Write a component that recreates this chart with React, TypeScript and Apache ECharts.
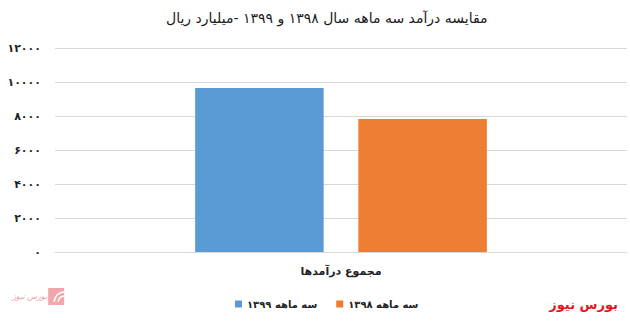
import React, { useEffect, useRef } from "react";
import * as echarts from "echarts";

const categories = ["مجموع درآمدها"];
const seriesNames = ["سه ماهه ۱۳۹۹", "سه ماهه ۱۳۹۸"];
const values1399 = [9650];
const values1398 = [7830];
const colors = ["#5B9BD5", "#ED7D31"];
const titleText = "مقایسه درآمد سه ماهه سال ۱۳۹۸ و ۱۳۹۹ -میلیارد ریال";
const sourceText = "بورس نیوز";

const FONT = "'DejaVu Sans', sans-serif";
const toFa = (n: number | string) =>
  String(n).replace(/[0-9]/g, (d) => "۰۱۲۳۴۵۶۷۸۹"[Number(d)]);

export default function App() {
  const ref = useRef<HTMLDivElement>(null);
  useEffect(() => {
    if (!ref.current) return;
    document.body.style.margin = "0";
    const chart = echarts.init(ref.current, null, { renderer: "svg" });
    chart.setOption({
      animation: false,
      backgroundColor: "#ffffff",
      textStyle: { fontFamily: FONT },
      title: {
        text: titleText,
        left: 161,
        top: 6,
        textStyle: { fontFamily: FONT, fontSize: 14, fontWeight: "normal", color: "#1a1a1a" },
      },
      legend: {
        data: seriesNames,
        top: 299,
        left: 235,
        padding: 0,
        itemWidth: 7,
        itemHeight: 7,
        itemGap: 19,
        icon: "rect",
        textStyle: { fontFamily: FONT, fontSize: 10, fontWeight: "bold", color: "#222" },
      },
      grid: { left: 55, right: 3, top: 48, bottom: 70, containLabel: false },
      xAxis: {
        type: "category",
        data: categories,
        axisLine: { show: true, lineStyle: { color: "#d9d9d9" } },
        axisTick: { show: false },
        axisLabel: {
          margin: 14,
          fontFamily: FONT,
          fontSize: 11,
          fontWeight: "bold",
          color: "#222",
        },
      },
      yAxis: {
        type: "value",
        min: 0,
        max: 12000,
        interval: 2000,
        axisLine: { show: false },
        axisTick: { show: false },
        splitLine: { lineStyle: { color: "#d9d9d9", width: 1 } },
        axisLabel: {
          margin: 14,
          fontFamily: FONT,
          fontSize: 11,
          fontWeight: "bold",
          color: "#222",
          formatter: (v: number) => toFa(v),
        },
      },
      series: [
        {
          name: seriesNames[0],
          type: "bar",
          data: values1399,
          itemStyle: { color: colors[0] },
          barGap: "27%",
          barCategoryGap: "49%",
        },
        {
          name: seriesNames[1],
          type: "bar",
          data: values1398,
          itemStyle: { color: colors[1] },
          barGap: "27%",
          barCategoryGap: "49%",
        },
      ],
      graphic: [
        {
          type: "text",
          right: 12,
          top: 298,
          style: {
            text: sourceText,
            fill: "#e8141b",
            font: "bold 13px 'DejaVu Sans', sans-serif",
          },
        },
        {
          type: "group",
          left: 12,
          top: 288,
          children: [
            {
              type: "text",
              x: 27,
              y: 4,
              style: {
                text: sourceText,
                fill: "#f0a0a6",
                align: "right",
                font: "italic 8px 'DejaVu Sans', sans-serif",
              },
            },
            {
              type: "rect",
              shape: { x: 28, y: 0, width: 16, height: 17 },
              style: { fill: "#f2a5ab" },
            },
            {
              type: "arc",
              shape: { cx: 44, cy: 14, r: 10, startAngle: Math.PI, endAngle: Math.PI * 1.5 },
              style: { stroke: "#ffffff", lineWidth: 1.5, fill: "none" },
            },
            {
              type: "arc",
              shape: { cx: 44, cy: 14, r: 6, startAngle: Math.PI, endAngle: Math.PI * 1.5 },
              style: { stroke: "#ffffff", lineWidth: 1.5, fill: "none" },
            },
          ],
        },
      ],
    });
    return () => chart.dispose();
  }, []);
  return <div ref={ref} style={{ width: 630, height: 322 }} />;
}
